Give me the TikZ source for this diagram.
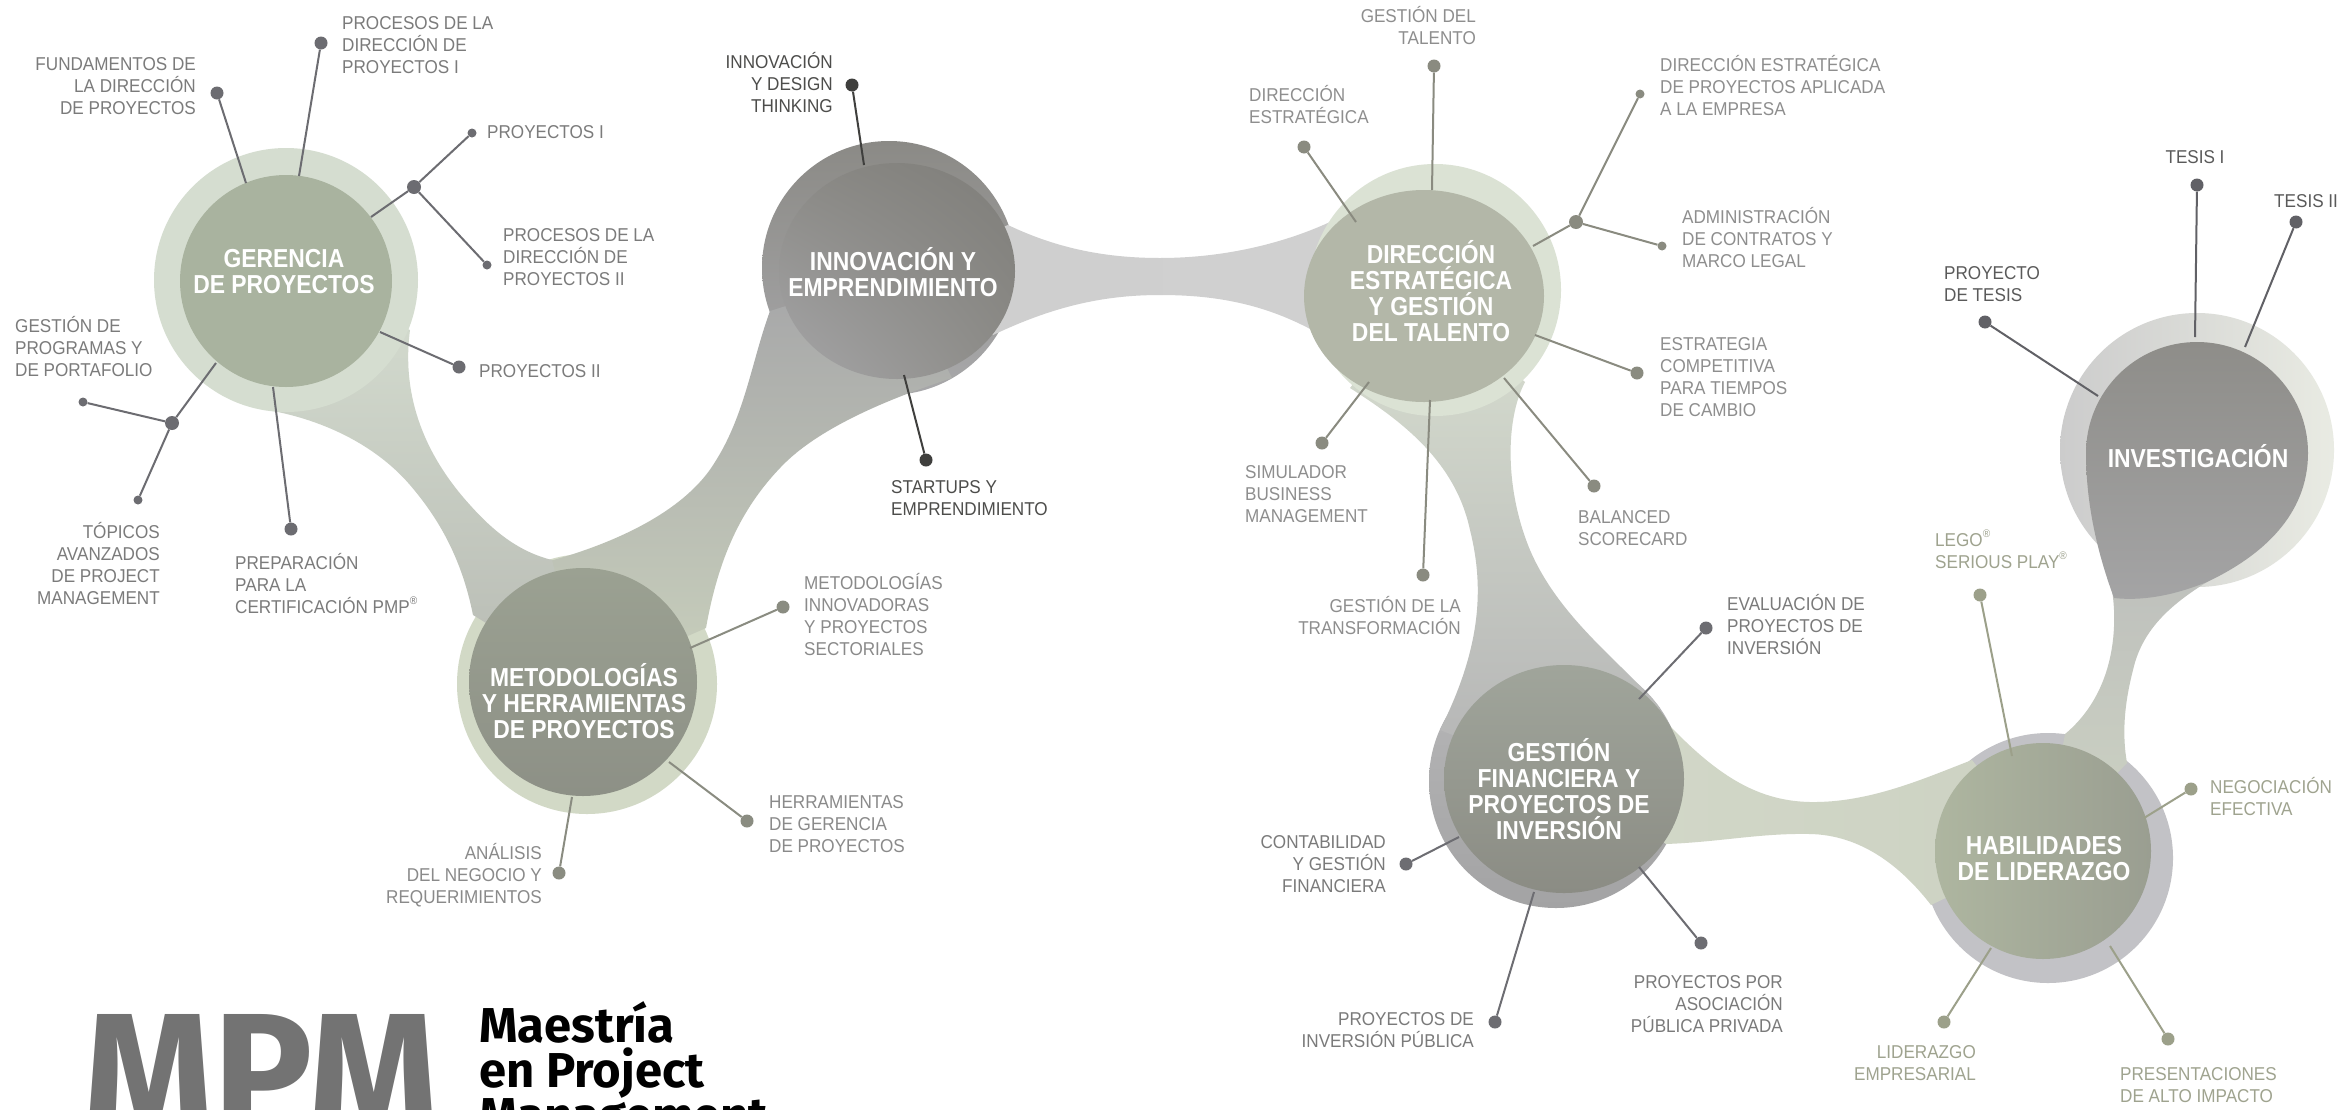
\documentclass[tikz,border=0pt]{standalone}
\usepackage{fontspec}
\usetikzlibrary{shadings}
\setmainfont{Liberation Sans}
\newfontfamily\labfam[FakeStretch=0.92]{Liberation Sans}
\newfontfamily\titfam[FakeStretch=0.88]{Liberation Sans}
\newfontfamily\logofam{Fira Sans}
\newcommand\labfont{\labfam\fontsize{18.6pt}{22pt}\selectfont}
\newcommand\titfont{\titfam\bfseries\fontsize{26pt}{26pt}\selectfont}
\newcommand\fl{\rule{0pt}{20pt}}
\newcommand\tfl{\rule{0pt}{26pt}}
\newcommand\regmark{\raisebox{0.45em}{\fontsize{11pt}{11pt}\selectfont ®}}
% colours
\definecolor{gtxt}{HTML}{7B7B7B}\definecolor{gdot}{HTML}{6C6C71}
\definecolor{itxt}{HTML}{4D4D4B}\definecolor{idot}{HTML}{3F3F3D}
\definecolor{mtxt}{HTML}{8A8A8A}\definecolor{mdot}{HTML}{8A8C81}
\definecolor{dtxt}{HTML}{8E8E8E}\definecolor{ddot}{HTML}{8A8B80}
\definecolor{ftxt}{HTML}{7A7A7A}\definecolor{fdot}{HTML}{6D6D72}
\definecolor{vtxt}{HTML}{5A5A5A}\definecolor{vdot}{HTML}{616166}
\definecolor{htxt}{HTML}{9FA38F}\definecolor{hdot}{HTML}{9CA08A}
\definecolor{logogrey}{HTML}{737373}
\definecolor{gerHalo}{HTML}{D5DDD0}\definecolor{gerIn}{HTML}{A9B39F}
\definecolor{metHalo}{HTML}{D2D9C6}\definecolor{metInT}{HTML}{9BA192}\definecolor{metInB}{HTML}{8D9086}
\definecolor{innHT}{HTML}{8B8A86}\definecolor{innHB}{HTML}{A8A8AA}
\definecolor{innUL}{HTML}{8A8985}\definecolor{innUR}{HTML}{7F7E7A}\definecolor{innLL}{HTML}{A6A6A8}\definecolor{innLR}{HTML}{8C8B87}
\definecolor{dirHalo}{HTML}{DBE2D4}\definecolor{dirIn}{HTML}{B3B7A8}
\definecolor{finHT}{HTML}{B8B8B9}\definecolor{finHB}{HTML}{A3A3A4}\definecolor{finInT}{HTML}{A0A59B}\definecolor{finInB}{HTML}{8B8C84}
\definecolor{habHalo}{HTML}{C2C2C6}\definecolor{habInL}{HTML}{AEB6A0}\definecolor{habInR}{HTML}{9A9E91}
\definecolor{invHL}{HTML}{CCCCCC}\definecolor{invHR}{HTML}{E9EBE3}\definecolor{invInT}{HTML}{8E8D89}\definecolor{invInB}{HTML}{A4A4A5}
\definecolor{bMIt}{HTML}{A6A6A8}\definecolor{bMIb}{HTML}{C8CFBC}
\definecolor{bGMb}{HTML}{B8BBB4}
\definecolor{bIDl}{HTML}{CFCFCF}\definecolor{bIDm}{HTML}{DDDDDD}\definecolor{bIDr}{HTML}{D0D0D0}
\definecolor{bDFt}{HTML}{D8DFD0}\definecolor{bDFb}{HTML}{B4B4B5}
\definecolor{bFHl}{HTML}{D2D8C8}\definecolor{bFHm}{HTML}{E4E8DC}\definecolor{bFHr}{HTML}{CDD2C3}
\definecolor{bHIt}{HTML}{B8B8BA}\definecolor{bHIb}{HTML}{CDD3C3}
\tikzset{
  labL/.style={anchor=north west, align=left, inner sep=0pt, font=\labfont},
  labR/.style={anchor=north east, align=right, inner sep=0pt, font=\labfont},
  labC/.style={anchor=north, align=center, inner sep=0pt, font=\labfont},
  tit/.style={anchor=north, align=center, inner sep=0pt, font=\titfont, text=white},
  bdot/.style={circle, fill=#1, inner sep=0pt, minimum size=13pt},
  sdot/.style={circle, fill=#1, inner sep=0pt, minimum size=9pt},
  jdot/.style={circle, fill=#1, inner sep=0pt, minimum size=14pt},
  spoke/.style={draw=#1, line width=2pt},
}
\begin{document}
\begin{tikzpicture}[x=1pt,y=-1pt]
\useasboundingbox (0,0) rectangle (2339,1109);
\clip (0,0) rectangle (2339,1109);
\fill[white] (0,0) rectangle (2339,1109);
% ---------- halos (under bands)
\fill[metHalo] (587,684) circle (130);
\shade[top color=innHT, bottom color=innHB] (889,268) circle (127);
\shade[top color=finHT, bottom color=finHB] (1556,781) circle (127);
\fill[habHalo] (2048,858) circle (125);
\shade[left color=invHL, right color=invHR] (2197,450) circle (137);
% ---------- bands
\shade[top color=bMIt, bottom color=bMIb] (583,682) -- (530,566)
  .. controls (590,552) and (680,520) .. (715,462)
  .. controls (745,415) and (752,360) .. (770,311) -- (897,271) -- (952,378)
  .. controls (900,395) and (820,425) .. (780,468)
  .. controls (740,510) and (718,560) .. (706,628) -- cycle;
\shade[top color=gerHalo, bottom color=bGMb] (286,281) -- (410,330)
  .. controls (402,390) and (420,450) .. (470,505)
  .. controls (495,533) and (520,552) .. (552,560) -- (583,682) -- (473,615)
  .. controls (462,560) and (440,520) .. (410,485)
  .. controls (380,450) and (330,420) .. (262,409) -- cycle;
\shade[left color=bIDl, middle color=bIDm, right color=bIDr] (897,271) -- (1008,225)
  .. controls (1060,250) and (1110,258) .. (1160,258)
  .. controls (1220,258) and (1280,245) .. (1330,222) -- (1424,296) -- (1312,330)
  .. controls (1260,302) and (1210,295) .. (1160,295)
  .. controls (1100,295) and (1050,308) .. (993,335) -- cycle;
\shade[top color=bDFt, bottom color=bDFb] (1424,296) -- (1350,388)
  .. controls (1400,420) and (1455,460) .. (1470,530)
  .. controls (1485,590) and (1480,650) .. (1440,730) -- (1564,779) -- (1660,708)
  .. controls (1625,665) and (1560,620) .. (1530,550)
  .. controls (1505,490) and (1505,420) .. (1525,382) -- cycle;
\shade[left color=bFHl, middle color=bFHm, right color=bFHr] (1564,779) -- (1671,727)
  .. controls (1720,778) and (1760,801) .. (1810,802)
  .. controls (1870,803) and (1925,778) .. (1972,760) -- (2043,851) -- (1931,905)
  .. controls (1900,865) and (1860,835) .. (1810,834)
  .. controls (1760,833) and (1720,842) .. (1666,844) -- cycle;
\shade[top color=bHIt, bottom color=bHIb] (2043,851) -- (2065,734)
  .. controls (2100,705) and (2116,660) .. (2114,610)
  .. controls (2112,570) and (2098,530) .. (2090,490) -- (2197,450) -- (2207,582)
  .. controls (2170,605) and (2142,630) .. (2133,670)
  .. controls (2124,705) and (2122,735) .. (2127,763) -- cycle;
% ---------- halos (over bands)
\fill[gerHalo] (286,280) circle (132);
\fill[dirHalo] (1435,290) circle (126);
% ---------- inner shapes
\fill[gerIn] (286,281) circle (106);
\shade[top color=metInT, bottom color=metInB] (583,682) circle (114);
\shade[upper left=innUL, upper right=innUR, lower left=innLL, lower right=innLR] (897,271) ellipse [x radius=118, y radius=108];
\fill[dirIn] (1424,296) ellipse [x radius=120, y radius=106];
\shade[top color=finInT, bottom color=finInB] (1564,779) ellipse [x radius=120, y radius=114];
\shade[left color=habInL, right color=habInR] (2043,851) circle (108);
\shade[top color=invInT, bottom color=invInB] (2086,453) arc[start angle=180, end angle=360, radius=111]
  .. controls (2308,515) and (2262,556) .. (2207,582)
  .. controls (2172,596) and (2142,601) .. (2114,598)
  .. controls (2100,560) and (2086,510) .. (2086,453) -- cycle;
% ---------- titles
\node[tit] (tGer) at (284,241) {\tfl GERENCIA\\DE PROYECTOS};
\node[tit] (tInn) at (893,244) {\tfl INNOVACIÓN Y\\EMPRENDIMIENTO};
\node[tit] (tMet) at (584,660) {\tfl METODOLOGÍAS\\Y HERRAMIENTAS\\DE PROYECTOS};
\node[tit] (tDir) at (1431,237) {\tfl DIRECCIÓN\\ESTRATÉGICA\\Y GESTIÓN\\DEL TALENTO};
\node[tit] (tFin) at (1559,735) {\tfl GESTIÓN\\FINANCIERA Y\\PROYECTOS DE\\INVERSIÓN};
\node[tit] (tInv) at (2198,441) {\tfl INVESTIGACIÓN};
\node[tit] (tHab) at (2044,828) {\tfl HABILIDADES\\DE LIDERAZGO};
% ---------- GERENCIA spokes
\node[bdot=gdot] (dFund) at (217,93) {};
\node[bdot=gdot] (dProc1) at (321,43) {};
\node[jdot=gdot] (j1) at (414,187) {};
\node[sdot=gdot] (dProy1) at (472,133) {};
\node[sdot=gdot] (dProc2) at (487,265) {};
\node[bdot=gdot] (dProy2) at (459,367) {};
\node[jdot=gdot] (j2) at (172,423) {};
\node[sdot=gdot] (dGprog) at (83,402) {};
\node[sdot=gdot] (dTop) at (138,500) {};
\node[bdot=gdot] (dPmp) at (291,529) {};
\coordinate (eFund) at (246,183);
\coordinate (eProc1) at (299,176);
\coordinate (eJ1) at (371,217);
\coordinate (eProy2) at (380,332);
\coordinate (eJ2) at (216,363);
\coordinate (ePmp) at (273,387);
\draw[spoke=gdot] (eFund) -- (dFund);
\draw[spoke=gdot] (eProc1) -- (dProc1);
\draw[spoke=gdot] (eJ1) -- (j1);
\draw[spoke=gdot] (j1) -- (dProy1);
\draw[spoke=gdot] (j1) -- (dProc2);
\draw[spoke=gdot] (eProy2) -- (dProy2);
\draw[spoke=gdot] (eJ2) -- (j2);
\draw[spoke=gdot] (j2) -- (dGprog);
\draw[spoke=gdot] (j2) -- (dTop);
\draw[spoke=gdot] (ePmp) -- (dPmp);
\node[labR, text=gtxt] (lFund) at (196,50) {\fl FUNDAMENTOS DE\\LA DIRECCIÓN\\DE PROYECTOS};
\node[labL, text=gtxt] (lProc1) at (342,9) {\fl PROCESOS DE LA\\DIRECCIÓN DE\\PROYECTOS I};
\node[labL, text=gtxt] (lProy1) at (487,118) {\fl PROYECTOS I};
\node[labL, text=gtxt] (lProc2) at (503,221) {\fl PROCESOS DE LA\\DIRECCIÓN DE\\PROYECTOS II};
\node[labL, text=gtxt] (lProy2) at (479,357) {\fl PROYECTOS II};
\node[labL, text=gtxt] (lGprog) at (15,312) {\fl GESTIÓN DE\\PROGRAMAS Y\\DE PORTAFOLIO};
\node[labR, text=gtxt] (lTop) at (160,518) {\fl TÓPICOS\\AVANZADOS\\DE PROJECT\\MANAGEMENT};
\node[labL, text=gtxt] (lPmp) at (235,549) {\fl PREPARACIÓN\\PARA LA\\CERTIFICACIÓN PMP\regmark};
% ---------- INNOVACION spokes
\node[bdot=idot] (dIdt) at (852,85) {};
\node[bdot=idot] (dStu) at (926,460) {};
\coordinate (eIdt) at (864,165);
\coordinate (eStu) at (904,375);
\draw[spoke=idot] (eIdt) -- (dIdt);
\draw[spoke=idot] (eStu) -- (dStu);
\node[labR, text=itxt] (lIdt) at (833,48) {\fl INNOVACIÓN\\Y DESIGN\\THINKING};
\node[labL, text=itxt] (lStu) at (891,473) {\fl STARTUPS Y\\EMPRENDIMIENTO};
% ---------- METODOLOGIAS spokes
\node[bdot=mdot] (dMin) at (783,607) {};
\node[bdot=mdot] (dHer) at (747,821) {};
\node[bdot=mdot] (dAna) at (559,873) {};
\coordinate (eMin) at (690,648);
\coordinate (eHer) at (669,762);
\coordinate (eAna) at (572,797);
\draw[spoke=mdot] (eMin) -- (dMin);
\draw[spoke=mdot] (eHer) -- (dHer);
\draw[spoke=mdot] (eAna) -- (dAna);
\node[labL, text=mtxt] (lMin) at (804,569) {\fl METODOLOGÍAS\\INNOVADORAS\\Y PROYECTOS\\SECTORIALES};
\node[labL, text=mtxt] (lHer) at (769,788) {\fl HERRAMIENTAS\\DE GERENCIA\\DE PROYECTOS};
\node[labR, text=mtxt] (lAna) at (542,839) {\fl ANÁLISIS\\DEL NEGOCIO Y\\REQUERIMIENTOS};
% ---------- DIRECCION spokes
\node[bdot=ddot] (dGdt) at (1434,66) {};
\node[bdot=ddot] (dDe) at (1304,147) {};
\node[jdot=ddot] (j3) at (1576,222) {};
\node[sdot=ddot] (dDepa) at (1640,94) {};
\node[sdot=ddot] (dAdm) at (1662,246) {};
\node[bdot=ddot] (dEsc) at (1637,373) {};
\node[bdot=ddot] (dSim) at (1322,443) {};
\node[bdot=ddot] (dGtr) at (1423,575) {};
\node[bdot=ddot] (dBsc) at (1594,486) {};
\coordinate (eGdt) at (1432,190);
\coordinate (eDe) at (1356,222);
\coordinate (eJ3) at (1533,246);
\coordinate (eEsc) at (1535,335);
\coordinate (eSim) at (1369,382);
\coordinate (eGtr) at (1430,400);
\coordinate (eBsc) at (1504,378);
\draw[spoke=ddot] (eGdt) -- (dGdt);
\draw[spoke=ddot] (eDe) -- (dDe);
\draw[spoke=ddot] (eJ3) -- (j3);
\draw[spoke=ddot] (j3) -- (dDepa);
\draw[spoke=ddot] (j3) -- (dAdm);
\draw[spoke=ddot] (eEsc) -- (dEsc);
\draw[spoke=ddot] (eSim) -- (dSim);
\draw[spoke=ddot] (eGtr) -- (dGtr);
\draw[spoke=ddot] (eBsc) -- (dBsc);
\node[labR, text=dtxt] (lGdt) at (1476,2) {\fl GESTIÓN DEL\\TALENTO};
\node[labL, text=dtxt] (lDe) at (1249,81) {\fl DIRECCIÓN\\ESTRATÉGICA};
\node[labL, text=dtxt] (lDepa) at (1660,51) {\fl DIRECCIÓN ESTRATÉGICA\\DE PROYECTOS APLICADA\\A LA EMPRESA};
\node[labL, text=dtxt] (lAdm) at (1682,203) {\fl ADMINISTRACIÓN\\DE CONTRATOS Y\\MARCO LEGAL};
\node[labL, text=dtxt] (lEsc) at (1660,330) {\fl ESTRATEGIA\\COMPETITIVA\\PARA TIEMPOS\\DE CAMBIO};
\node[labL, text=dtxt] (lSim) at (1245,458) {\fl SIMULADOR\\BUSINESS\\MANAGEMENT};
\node[labR, text=dtxt] (lGtr) at (1461,592) {\fl GESTIÓN DE LA\\TRANSFORMACIÓN};
\node[labL, text=dtxt] (lBsc) at (1578,503) {\fl BALANCED\\SCORECARD};
% ---------- GESTION FINANCIERA spokes
\node[bdot=fdot] (dEva) at (1706,628) {};
\node[bdot=fdot] (dCon) at (1406,864) {};
\node[bdot=fdot] (dPip) at (1495,1022) {};
\node[bdot=fdot] (dApp) at (1701,943) {};
\coordinate (eEva) at (1639,699);
\coordinate (eCon) at (1459,837);
\coordinate (ePip) at (1534,892);
\coordinate (eApp) at (1639,867);
\draw[spoke=fdot] (eEva) -- (dEva);
\draw[spoke=fdot] (eCon) -- (dCon);
\draw[spoke=fdot] (ePip) -- (dPip);
\draw[spoke=fdot] (eApp) -- (dApp);
\node[labL, text=ftxt] (lEva) at (1727,590) {\fl EVALUACIÓN DE\\PROYECTOS DE\\INVERSIÓN};
\node[labR, text=ftxt] (lCon) at (1386,828) {\fl CONTABILIDAD\\Y GESTIÓN\\FINANCIERA};
\node[labR, text=ftxt] (lPip) at (1474,1005) {\fl PROYECTOS DE\\INVERSIÓN PÚBLICA};
\node[labR, text=ftxt] (lApp) at (1783,968) {\fl PROYECTOS POR\\ASOCIACIÓN\\PÚBLICA PRIVADA};
% ---------- INVESTIGACION spokes
\node[bdot=vdot] (dT1) at (2197,185) {};
\node[bdot=vdot] (dT2) at (2296,222) {};
\node[bdot=vdot] (dPdt) at (1985,322) {};
\coordinate (eT1) at (2195,337);
\coordinate (eT2) at (2245,347);
\coordinate (ePdt) at (2098,396);
\draw[spoke=vdot] (eT1) -- (dT1);
\draw[spoke=vdot] (eT2) -- (dT2);
\draw[spoke=vdot] (ePdt) -- (dPdt);
\node[labC, text=vtxt] (lT1) at (2195,143) {\fl TESIS I};
\node[labL, text=vtxt] (lT2) at (2274,187) {\fl TESIS II};
\node[labL, text=vtxt] (lPdt) at (1944,259) {\fl PROYECTO\\DE TESIS};
% ---------- HABILIDADES spokes
\node[bdot=hdot] (dLego) at (1980,595) {};
\node[bdot=hdot] (dNeg) at (2191,789) {};
\node[bdot=hdot] (dLem) at (1944,1022) {};
\node[bdot=hdot] (dPre) at (2168,1039) {};
\coordinate (eLego) at (2012,756);
\coordinate (eNeg) at (2144,818);
\coordinate (eLem) at (1991,948);
\coordinate (ePre) at (2110,946);
\draw[spoke=hdot] (eLego) -- (dLego);
\draw[spoke=hdot] (eNeg) -- (dNeg);
\draw[spoke=hdot] (eLem) -- (dLem);
\draw[spoke=hdot] (ePre) -- (dPre);
\node[labL, text=htxt] (lLego) at (1935,526) {\fl LEGO\regmark\\SERIOUS PLAY\regmark};
\node[labL, text=htxt] (lNeg) at (2210,773) {\fl NEGOCIACIÓN\\EFECTIVA};
\node[labR, text=htxt] (lLem) at (1976,1038) {\fl LIDERAZGO\\EMPRESARIAL};
\node[labL, text=htxt] (lPre) at (2120,1060) {\fl PRESENTACIONES\\DE ALTO IMPACTO};
% ---------- logo
\node[anchor=base west, inner sep=0pt, text=logogrey, font=\logofam\bfseries\fontsize{166pt}{166pt}\selectfont] (mpm) at (83,1129) {MPM};
\node[anchor=north west, align=left, inner sep=0pt, text=black, font=\logofam\bfseries\fontsize{49pt}{45pt}\selectfont] (mpmtxt) at (479,997) {\rule{0pt}{45pt}Maestría\\en Project\\Management};
\end{tikzpicture}
\end{document}
